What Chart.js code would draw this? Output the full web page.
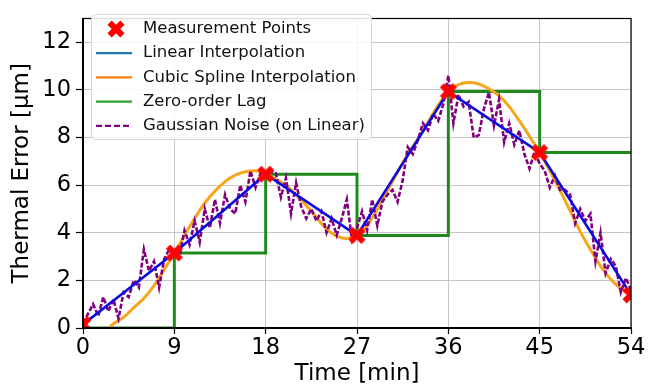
<!DOCTYPE html>
<html>
<head>
<meta charset="utf-8">
<script src="https://cdn.jsdelivr.net/npm/chart.js@4.4.1/dist/chart.umd.min.js"></script>
<style>
  html, body { margin: 0; padding: 0; background: #fff; }
</style>
</head>
<body>
<canvas id="myChart" width="656" height="388"></canvas>
<script>
"use strict";

// measurement points (min, µm)
const measureTimes = [0, 9, 18, 27, 36, 45, 54];
const measureValues = [0.15, 3.15, 6.46, 3.89, 9.93, 7.37, 1.39];

// zero-order lag: holds the last measurement
const lagTimes = [0, 9, 18, 27, 36, 45, 54];
const lagValues = [0, 3.15, 6.46, 3.89, 9.93, 7.37, 7.37];

// cubic spline, one value per minute
const splineStep = 1;
const splineValues = [
  0.15, -0.35, -0.2, 0.18, 0.45, 0.85, 1.25, 1.78, 2.45, 3.15,
  3.9, 4.6, 5.25, 5.75, 6.15, 6.42, 6.56, 6.6, 6.46, 6.25,
  6.0, 5.6, 5.15, 4.65, 4.15, 3.86, 3.76, 3.89, 4.3, 5.0,
  5.75, 6.55, 7.3, 7.95, 8.65, 9.35, 9.93, 10.22, 10.31, 10.25,
  10.05, 9.75, 9.3, 8.7, 8.05, 7.37, 6.6, 5.78, 4.92, 4.05,
  3.3, 2.6, 2.05, 1.65, 1.39
];

// noisy signal, one value per half minute
const noiseStep = 0.5;
const noiseValues = [
  0.2, 0.6, 1.0, 0.5, 1.3, 0.7, 1.2, 0.4, 1.5, 1.3, 2.0, 1.7, 3.3, 2.4, 2.8, 1.7, 2.9, 3.3, 3.1,
  3.0, 4.1, 3.5, 4.5, 3.6, 5.0, 4.2, 5.4, 4.4, 5.6, 5.0, 4.8, 6.0, 5.3, 6.6, 5.9, 6.5, 6.4,
  6.6, 6.5, 5.5, 6.3, 4.8, 6.1, 5.1, 4.6, 5.0, 4.5, 4.9, 4.0, 4.6, 3.9, 4.6, 5.4, 3.7, 4.2,
  4.9, 4.1, 5.4, 4.3, 5.3, 5.6, 5.8, 5.3, 6.2, 7.6, 7.3, 7.9, 8.6, 8.3, 9.0, 8.7, 9.4, 10.6,
  8.6, 9.8, 9.3, 9.5, 8.0, 8.1, 9.2, 9.9, 8.5, 9.6, 7.8, 8.6, 7.7, 8.3, 7.3, 6.7, 7.4, 6.9,
  6.6, 5.9, 6.4, 5.8, 5.8, 5.6, 4.4, 5.0, 4.5, 4.8, 2.8, 4.0, 2.3, 2.9, 2.6, 1.5, 2.1, 1.6
];

const legendLabels = [
  "Measurement Points",
  "Linear Interpolation",
  "Cubic Spline Interpolation",
  "Zero-order Lag",
  "Gaussian Noise (on Linear)",
];
const legendColors = ["#ff0000", "#1f77b4", "#ff7f0e", "#2ca02c", "#800080"];

const fontFamily = "'DejaVu Sans', sans-serif";

function toPoints(xs, ys) {
  return ys.map((y, i) => ({ x: xs[i], y: y }));
}
function toStepPoints(step, ys) {
  return ys.map((y, i) => ({ x: i * step, y: y }));
}

// filled X marker
function makeCross(size) {
  let c = document.createElement("canvas");
  c.width = size;
  c.height = size;
  let g = c.getContext("2d");
  g.strokeStyle = "#ff0000";
  g.lineWidth = size * 0.3;
  g.lineCap = "butt";
  let m = size * 0.18;
  g.beginPath();
  g.moveTo(m, m);
  g.lineTo(size - m, size - m);
  g.moveTo(size - m, m);
  g.lineTo(m, size - m);
  g.stroke();
  return c;
}
const crossImg = makeCross(20);

const framePlugin = {
  id: "frame",
  afterDatasetsDraw(chart) {
    const { ctx, chartArea: a } = chart;
    ctx.save();
    ctx.strokeStyle = "#000";
    ctx.lineWidth = 1.2;
    ctx.strokeRect(a.left, a.top, a.right - a.left, a.bottom - a.top);
    ctx.lineWidth = 2;
    ctx.beginPath();
    ctx.moveTo(a.left, a.top);
    ctx.lineTo(a.left, a.bottom);
    ctx.lineTo(a.right, a.bottom);
    ctx.stroke();
    ctx.restore();
  },
  afterDraw(chart) {
    const ctx = chart.ctx;
    ctx.save();
    // legend box
    let bx = 91, by = 14, bw = 280, bh = 125;
    ctx.fillStyle = "rgba(255,255,255,0.85)";
    ctx.strokeStyle = "#d6d6d6";
    ctx.lineWidth = 1;
    ctx.beginPath();
    ctx.roundRect(bx + 0.5, by + 0.5, bw, bh, 4);
    ctx.fill();
    ctx.stroke();

    ctx.font = "16.5px " + fontFamily;
    ctx.textBaseline = "middle";
    for (let i = 0; i < legendLabels.length; i++) {
      let y = 29 + i * 24.2;
      if (i === 0) {
        ctx.drawImage(crossImg, 106, y - 10, 20, 20);
      } else {
        ctx.strokeStyle = legendColors[i];
        ctx.lineWidth = 2.2;
        ctx.setLineDash(i === 4 ? [6, 3] : []);
        ctx.beginPath();
        ctx.moveTo(96, y);
        ctx.lineTo(132, y);
        ctx.stroke();
        ctx.setLineDash([]);
      }
      ctx.fillStyle = "#111";
      ctx.fillText(legendLabels[i], 143, y);
    }
    ctx.restore();
  },
};

const ctx = document.getElementById("myChart").getContext("2d");

const tickFont = { family: fontFamily, size: 22.5 };
const titleFont = { family: fontFamily, size: 23 };
const gridColor = "rgba(175,175,175,0.7)";

const myChart = new Chart(ctx, {
  type: "line",
  data: {
    datasets: [
      {
        label: legendLabels[0],
        data: toPoints(measureTimes, measureValues),
        showLine: false,
        pointStyle: crossImg,
        pointRadius: 10,
        clip: 0,
      },
      {
        label: legendLabels[1],
        data: toPoints(measureTimes, measureValues),
        borderColor: "#0b0be0",
        borderWidth: 2.6,
        pointRadius: 0,
      },
      {
        label: legendLabels[4],
        data: toStepPoints(noiseStep, noiseValues),
        borderColor: "#800080",
        borderWidth: 2.6,
        borderDash: [5, 2],
        pointRadius: 0,
      },
      {
        label: legendLabels[2],
        data: toStepPoints(splineStep, splineValues),
        borderColor: "#f7a51c",
        borderWidth: 3,
        cubicInterpolationMode: "monotone",
        pointRadius: 0,
        clip: 0,
      },
      {
        label: legendLabels[3],
        data: toPoints(lagTimes, lagValues),
        borderColor: "#1e8a1e",
        borderWidth: 3,
        stepped: true,
        pointRadius: 0,
      },
    ],
  },
  options: {
    responsive: false,
    animation: false,
    layout: { padding: { left: 0, top: 7, right: 25, bottom: 0 } },
    plugins: {
      legend: { display: false },
      tooltip: { enabled: false },
    },
    scales: {
      x: {
        type: "linear",
        min: 0,
        max: 54,
        ticks: { stepSize: 9, font: tickFont, color: "#000", padding: 1, maxRotation: 0 },
        grid: { color: gridColor, lineWidth: 1, tickLength: 6, tickColor: "#000", tickWidth: 1.2 },
        border: { color: "#000", width: 2 },
        title: { display: true, text: "Time [min]", font: titleFont, color: "#000", padding: { top: 0, bottom: 0 } },
        afterFit: (s) => { s.height = 60; },
      },
      y: {
        min: 0,
        max: 13,
        ticks: { stepSize: 2, includeBounds: false, font: tickFont, color: "#000", padding: 5 },
        grid: { color: gridColor, lineWidth: 1, tickLength: 7, tickColor: "#000", tickWidth: 1.2 },
        border: { color: "#000", width: 2 },
        title: { display: true, text: "Thermal Error [µm]", font: titleFont, color: "#000", padding: { top: 8, bottom: 0 } },
        afterFit: (s) => { s.width = 83; },
      },
    },
  },
  plugins: [framePlugin],
});
</script>
</body>
</html>
